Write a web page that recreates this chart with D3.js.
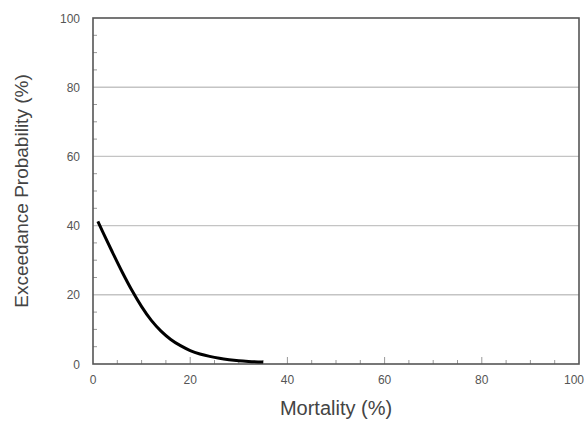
<!DOCTYPE html>
<html><head><meta charset="utf-8">
<script src="https://cdn.jsdelivr.net/npm/d3@7"></script>
<style>body{margin:0;background:#fff}svg{display:block}text{font-family:"Liberation Sans",Arial,sans-serif}</style>
</head><body>
<script>
const mortality = [1, 2, 4, 6, 8, 10, 12, 14, 16, 18, 20, 22, 24, 26, 28, 30, 32, 35];
const exceedance = [41.2, 38.2, 32.3, 26.6, 21.3, 16.6, 12.6, 9.5, 7.1, 5.3, 3.9, 2.9, 2.2, 1.65, 1.25, 0.95, 0.75, 0.55];
const xTicks = [0, 20, 40, 60, 80, 100];
const yTicks = [0, 20, 40, 60, 80, 100];
const minorTicks = d3.range(0, 101, 5);

const W = 587, H = 422;
const m = {left: 93, right: 8, top: 18, bottom: 58};
const svg = d3.select("body").append("svg").attr("width", W).attr("height", H);
const x = d3.scaleLinear().domain([0, 100]).range([m.left, W - m.right]);
const y = d3.scaleLinear().domain([0, 100]).range([H - m.bottom, m.top]);

// gridlines
svg.append("g").selectAll("line").data(yTicks.filter(d => d > 0 && d < 100)).join("line")
  .attr("x1", x(0)).attr("x2", x(100)).attr("y1", d => y(d)).attr("y2", d => y(d))
  .attr("stroke", "#c4c4c4").attr("stroke-width", 1.4);

// minor ticks (inward)
svg.append("g").selectAll("line").data(minorTicks.filter(d => d % 20 !== 0)).join("line")
  .attr("x1", x(0)).attr("x2", x(0) + 4).attr("y1", d => y(d)).attr("y2", d => y(d))
  .attr("stroke", "#999");
svg.append("g").selectAll("line").data(minorTicks.filter(d => d % 20 !== 0)).join("line")
  .attr("y1", y(0)).attr("y2", y(0) - 4).attr("x1", d => x(d)).attr("x2", d => x(d))
  .attr("stroke", "#999");
svg.append("g").selectAll("line").data(xTicks.filter(d => d > 0 && d < 100)).join("line")
  .attr("y1", y(0)).attr("y2", y(0) - 7).attr("x1", d => x(d)).attr("x2", d => x(d))
  .attr("stroke", "#999");

// frame
svg.append("rect").attr("x", x(0)).attr("y", y(100)).attr("width", x(100) - x(0)).attr("height", y(0) - y(100))
  .attr("fill", "none").attr("stroke", "#555").attr("stroke-width", 1.6);

// tick labels
svg.append("g").selectAll("text").data(xTicks).join("text")
  .attr("x", d => d === 100 ? W - 3 : x(d)).attr("y", y(0) + 20)
  .attr("text-anchor", d => d === 100 ? "end" : "middle")
  .attr("font-size", 12).attr("fill", "#555").text(d => d);
svg.append("g").selectAll("text").data(yTicks).join("text")
  .attr("x", 80).attr("y", d => y(d) + 4.5).attr("text-anchor", "end")
  .attr("font-size", 12).attr("fill", "#555").text(d => d);

// axis titles
svg.append("text").attr("x", 336).attr("y", 415).attr("text-anchor", "middle")
  .attr("font-size", 20).attr("fill", "#444").text("Mortality (%)");
svg.append("text").attr("transform", `translate(28,${(y(0) + y(100)) / 2}) rotate(-90)`)
  .attr("text-anchor", "middle").attr("font-size", 19).attr("fill", "#444").text("Exceedance Probability (%)");

// curve
const line = d3.line().x(d => x(d[0])).y(d => y(d[1])).curve(d3.curveMonotoneX);
svg.append("path").datum(d3.zip(mortality, exceedance)).attr("d", line)
  .attr("fill", "none").attr("stroke", "#000").attr("stroke-width", 3);
</script>
</body></html>
